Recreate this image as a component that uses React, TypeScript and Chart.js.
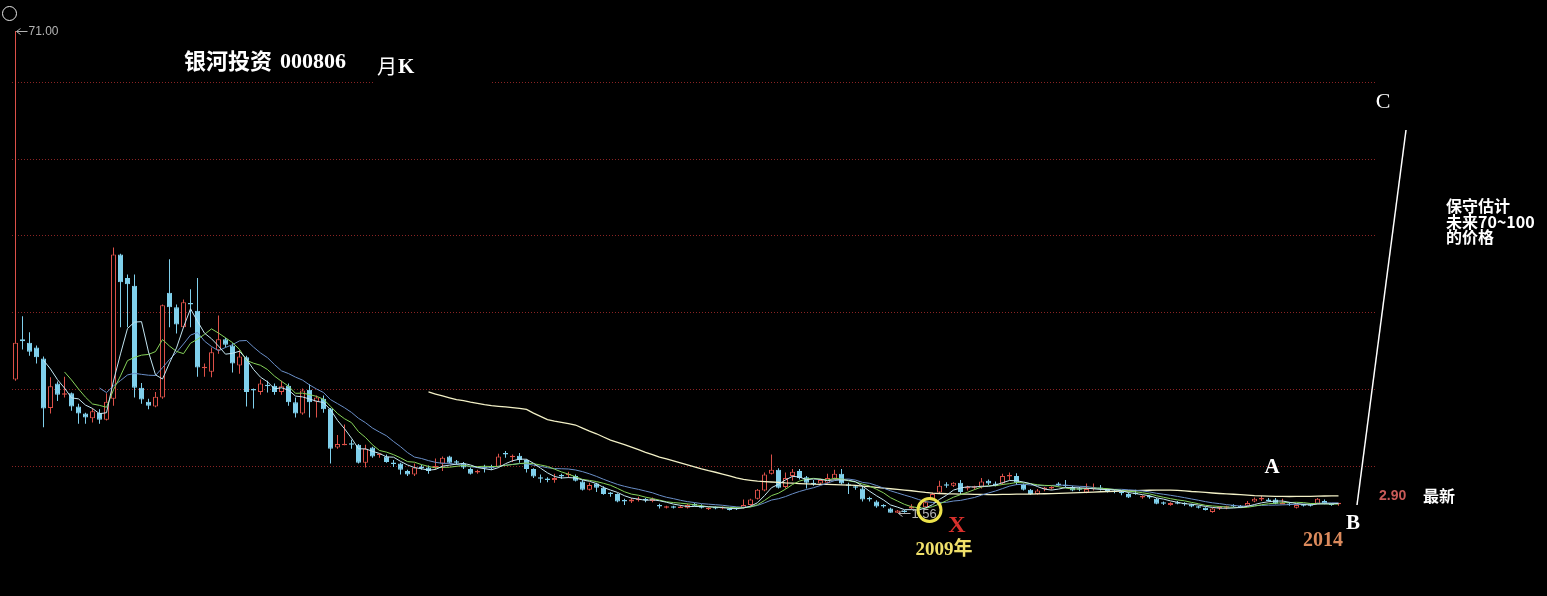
import React, { useEffect, useRef } from 'react';
import { Chart, registerables } from 'chart.js';

Chart.register(...registerables);

// ---- data (monthly K-line, 银河投资 000806) ----
const opens = [
  20.8, 26.6, 26.1, 25.4, 23.8, 16.7, 20.2, 18.6, 18.8, 16.9,
  15.9, 15.2, 16.0, 15.0, 18.0, 38.8, 35.4, 34.3, 19.6, 17.6,
  16.9, 18.2, 33.3, 31.2, 28.3, 31.8, 30.7, 22.4, 21.9, 25.0,
  26.6, 25.7, 22.8, 24.0, 19.4, 19.0, 20.0, 19.9, 19.0, 19.9,
  17.5, 15.9, 19.3, 17.6, 18.0, 16.6, 11.0, 11.3, 11.6, 11.4,
  8.8, 11.0, 9.9, 9.7, 8.8, 8.7, 7.6, 7.1, 8.2, 8.1,
  8.1, 8.7, 9.7, 8.9, 8.7, 7.9, 7.4, 8.1, 8.1, 8.2,
  10.1, 9.6, 9.8, 9.2, 7.9, 6.6, 6.4, 6.3, 6.9, 7.0,
  6.9, 6.1, 4.9, 5.8, 5.2, 4.4, 4.3, 3.3, 3.2, 3.6,
  3.5, 3.3, 2.6, 2.3, 2.4, 2.5, 2.3, 2.9, 2.6, 2.1,
  2.3, 2.2, 2.1, 2.2, 2.3, 2.7, 3.6, 4.8, 7.2, 7.8,
  5.3, 6.9, 7.6, 6.7, 5.8, 5.8, 5.9, 6.5, 7.2, 5.6,
  5.3, 5.1, 3.6, 3.2, 2.6, 2.2, 1.6, 1.8, 2.2, 2.3,
  2.4, 3.6, 4.5, 5.6, 5.5, 5.9, 5.1, 5.2, 5.3, 6.2,
  5.8, 5.8, 6.8, 6.9, 5.6, 4.9, 4.3, 5.0, 5.1, 5.8,
  5.5, 5.3, 5.0, 4.5, 5.0, 5.1, 4.8, 4.7, 4.6, 4.3,
  4.4, 3.8, 3.9, 3.6, 3.0, 2.7, 3.0, 2.9, 2.8, 2.5,
  2.3, 1.7, 2.2, 2.3, 2.6, 2.5, 2.6, 3.2, 3.5, 3.4,
  3.5, 3.0, 2.8, 2.3, 2.7, 2.8, 2.9, 3.3, 2.9, 2.8,
];
const highs = [
  71.0, 29.9, 27.6, 25.7, 24.1, 21.1, 20.5, 21.2, 18.9, 17.3,
  16.0, 16.6, 16.5, 18.8, 39.8, 38.9, 35.9, 35.9, 20.3, 18.0,
  19.0, 31.6, 38.1, 31.6, 32.3, 33.8, 35.4, 23.1, 25.4, 30.0,
  26.8, 26.0, 25.0, 24.2, 19.5, 20.8, 20.6, 20.2, 20.6, 20.2,
  18.2, 19.5, 20.1, 18.5, 18.5, 16.7, 12.8, 14.3, 12.1, 11.5,
  11.4, 11.1, 10.1, 10.0, 9.2, 8.8, 7.8, 8.7, 8.5, 8.4,
  9.4, 9.7, 9.8, 9.2, 8.9, 8.1, 7.8, 8.5, 8.5, 10.1,
  10.5, 10.0, 10.2, 9.3, 8.0, 7.1, 6.7, 7.2, 7.2, 7.5,
  7.1, 6.3, 5.9, 5.9, 5.4, 4.6, 4.4, 3.6, 3.7, 3.9,
  3.7, 3.8, 2.9, 2.6, 2.6, 2.7, 2.9, 3.0, 2.8, 2.4,
  2.5, 2.5, 2.3, 2.4, 3.5, 3.6, 5.0, 7.4, 10.0, 8.0,
  7.4, 7.9, 7.9, 6.9, 6.3, 6.5, 7.2, 7.8, 7.9, 5.9,
  5.5, 5.4, 3.9, 3.4, 2.8, 2.3, 2.0, 2.0, 2.8, 2.5,
  3.3, 4.5, 6.2, 6.0, 6.0, 6.3, 5.5, 5.5, 6.6, 6.4,
  6.1, 7.2, 7.4, 7.3, 5.8, 5.0, 5.0, 5.3, 5.4, 6.0,
  6.3, 5.5, 5.3, 5.8, 5.8, 5.6, 5.1, 4.9, 4.8, 4.5,
  4.9, 4.1, 4.1, 3.7, 3.2, 3.1, 3.3, 3.1, 2.9, 2.6,
  2.4, 2.3, 2.5, 2.6, 2.8, 2.7, 3.3, 3.8, 4.0, 3.7,
  3.7, 3.6, 3.1, 2.8, 2.9, 2.9, 3.7, 3.5, 3.0, 3.0,
];
const lows = [
  20.6, 25.1, 24.2, 23.1, 13.9, 15.9, 17.7, 18.2, 16.3, 14.4,
  14.4, 14.6, 14.4, 14.9, 17.0, 28.3, 28.3, 18.2, 17.3, 16.5,
  16.8, 18.0, 28.3, 27.4, 28.2, 28.3, 21.2, 21.2, 21.1, 24.5,
  25.4, 21.8, 21.6, 16.9, 16.6, 18.6, 18.9, 18.6, 18.6, 17.0,
  15.3, 15.7, 15.3, 15.3, 16.0, 8.7, 10.8, 11.3, 10.8, 8.7,
  8.1, 9.5, 9.5, 8.8, 8.2, 7.1, 6.9, 6.9, 7.8, 7.2,
  7.8, 7.6, 8.7, 8.5, 7.9, 7.1, 7.2, 7.4, 7.8, 8.1,
  9.5, 8.9, 8.8, 7.4, 6.6, 5.9, 6.0, 5.9, 6.5, 6.6,
  6.1, 4.8, 4.8, 4.6, 4.2, 3.9, 3.1, 2.7, 3.0, 3.2,
  3.1, 3.1, 2.2, 2.2, 2.2, 2.3, 2.2, 2.5, 2.2, 2.0,
  2.1, 2.1, 1.9, 2.0, 2.2, 2.6, 3.5, 4.7, 7.1, 5.1,
  5.1, 6.2, 6.4, 5.1, 5.5, 5.6, 5.8, 6.4, 5.7, 4.3,
  4.9, 3.2, 3.2, 2.3, 2.3, 1.6, 1.56, 1.6, 2.1, 2.0,
  2.3, 3.4, 4.3, 5.2, 5.3, 4.3, 4.8, 4.9, 5.1, 5.6,
  5.4, 5.6, 6.3, 5.6, 4.8, 4.2, 4.2, 4.7, 4.9, 5.4,
  5.3, 4.7, 4.7, 4.4, 4.8, 4.8, 4.5, 4.4, 4.1, 3.7,
  4.2, 3.6, 3.6, 2.8, 2.7, 2.6, 2.8, 2.6, 2.4, 2.2,
  1.9, 1.6, 2.0, 2.1, 2.4, 2.3, 2.5, 3.1, 3.3, 3.2,
  2.8, 2.8, 2.6, 2.2, 2.5, 2.5, 2.8, 2.8, 2.6, 2.6,
];
const closes = [
  26.1, 26.3, 24.8, 24.0, 16.6, 19.8, 18.6, 18.8, 16.9, 15.9,
  15.3, 16.2, 15.0, 17.6, 38.8, 34.8, 34.5, 19.6, 17.9, 17.0,
  18.3, 31.5, 31.2, 28.7, 31.9, 31.6, 22.5, 22.6, 24.7, 26.6,
  25.8, 23.1, 24.1, 19.0, 19.2, 20.2, 19.8, 19.0, 19.8, 17.5,
  15.9, 19.2, 17.5, 18.2, 16.5, 10.8, 11.5, 11.5, 11.4, 8.8,
  10.8, 9.7, 10.0, 8.9, 8.6, 7.8, 7.1, 8.1, 8.05, 7.6,
  8.3, 9.5, 8.8, 8.8, 8.1, 7.2, 7.6, 8.0, 8.0, 9.7,
  10.0, 9.7, 9.2, 7.9, 6.8, 6.5, 6.3, 6.6, 6.8, 7.1,
  6.2, 4.9, 5.6, 5.2, 4.3, 4.3, 3.2, 3.2, 3.5, 3.6,
  3.4, 3.6, 2.5, 2.4, 2.3, 2.5, 2.7, 2.6, 2.3, 2.2,
  2.2, 2.4, 2.0, 2.1, 2.7, 3.5, 4.9, 7.1, 7.8, 5.2,
  6.6, 7.5, 6.6, 5.9, 5.7, 6.3, 6.6, 7.2, 5.8, 5.5,
  5.2, 3.5, 3.5, 2.5, 2.5, 1.6, 1.9, 1.7, 2.5, 2.2,
  3.1, 4.3, 5.5, 5.5, 5.9, 4.6, 5.2, 5.3, 6.1, 5.8,
  5.5, 6.9, 6.9, 5.9, 4.9, 4.3, 4.8, 5.1, 5.2, 5.6,
  5.4, 4.8, 4.9, 5.0, 5.1, 5.0, 4.7, 4.6, 4.4, 3.8,
  4.3, 3.9, 3.8, 2.9, 2.9, 3.0, 2.9, 2.8, 2.5, 2.3,
  2.0, 2.2, 2.3, 2.4, 2.5, 2.4, 3.0, 3.6, 3.6, 3.3,
  2.9, 3.0, 2.7, 2.7, 2.6, 2.6, 3.6, 2.9, 2.7, 2.9,
];

const maPeriods = [5, 8, 13, 60];
const maColors = ['#c4e6f2', '#86d35a', '#6a8fc8', '#f2f0c6'];
const gridValues = [8.33, 19.43, 30.52, 41.61, 52.55, 63.65];

const titleName = '银河投资';
const titleCode = '000806';
const periodLabel = '月';
const noteLines = ['保守估计', '未来70~100', '的价格'];

const UP = '#dc5048';
const DOWN = '#80d0ec';

function movingAverage(values: number[], period: number) {
  const out: { x: number; y: number }[] = [];
  let sum = 0;
  for (let i = 0; i < values.length; i++) {
    sum += values[i];
    if (i >= period) sum -= values[i - period];
    if (i >= period - 1) out.push({ x: i, y: sum / period });
  }
  return out;
}

const gridPlugin = {
  id: 'dottedGrid',
  beforeDatasetsDraw(chart: any) {
    const { ctx, chartArea } = chart;
    const ys = chart.scales.y;
    ctx.save();
    ctx.strokeStyle = '#8a2424';
    ctx.lineWidth = 1;
    ctx.setLineDash([1, 2]);
    gridValues.forEach((v) => {
      const y = Math.round(ys.getPixelForValue(v)) + 0.5;
      ctx.beginPath();
      ctx.moveTo(chartArea.left, y);
      ctx.lineTo(chartArea.right, y);
      ctx.stroke();
    });
    ctx.restore();
  },
};

function arrowLabel(ctx: any, tipX: number, y: number, text: string, font: string, gap: number) {
  ctx.strokeStyle = '#b4b4b4';
  ctx.fillStyle = '#b4b4b4';
  ctx.lineWidth = 1;
  ctx.beginPath();
  ctx.moveTo(tipX + 1, y + 0.5);
  ctx.lineTo(tipX + gap, y + 0.5);
  ctx.moveTo(tipX + 1, y + 0.5);
  ctx.lineTo(tipX + 5, y - 2.5);
  ctx.moveTo(tipX + 1, y + 0.5);
  ctx.lineTo(tipX + 5, y + 3.5);
  ctx.stroke();
  ctx.font = font;
  ctx.textAlign = 'left';
  ctx.textBaseline = 'middle';
  ctx.fillText(text, tipX + gap + 1, y + 1);
}

const overlayPlugin = {
  id: 'overlay',
  afterDraw(chart: any) {
    const ctx = chart.ctx;
    const xs = chart.scales.x;
    const ys = chart.scales.y;
    ctx.save();

    // top-left circle
    ctx.strokeStyle = '#e8e8e8';
    ctx.lineWidth = 1;
    ctx.beginPath();
    ctx.arc(9.5, 13.5, 7, 0, Math.PI * 2);
    ctx.stroke();

    // max high label
    let hi = 0;
    highs.forEach((h, i) => { if (h > highs[hi]) hi = i; });
    arrowLabel(ctx, xs.getPixelForValue(hi), Math.round(ys.getPixelForValue(highs[hi])),
      highs[hi].toFixed(2), '12px "Liberation Sans", Arial, sans-serif', 12);

    // min low label
    let lo = 0;
    lows.forEach((l, i) => { if (l < lows[lo]) lo = i; });
    arrowLabel(ctx, xs.getPixelForValue(lo), Math.round(ys.getPixelForValue(lows[lo])),
      lows[lo].toFixed(2), '13px "Liberation Sans", Arial, sans-serif', 13);

    // title block
    ctx.fillStyle = '#000';
    ctx.fillRect(373, 46, 117, 42);
    ctx.fillStyle = '#ffffff';
    ctx.textAlign = 'left';
    ctx.textBaseline = 'middle';
    ctx.font = 'bold 22px "Noto Sans CJK SC", sans-serif';
    ctx.fillText(titleName, 184, 61);
    ctx.font = 'bold 22px "Liberation Serif", serif';
    ctx.fillText(titleCode, 280, 62);
    ctx.font = '20px "Noto Sans CJK SC", sans-serif';
    ctx.fillText(periodLabel, 377, 66);
    ctx.font = 'bold 21px "Liberation Serif", serif';
    ctx.fillText('K', 398, 68);

    // trend line B -> C
    ctx.strokeStyle = '#ffffff';
    ctx.lineWidth = 1.5;
    ctx.beginPath();
    ctx.moveTo(1357, 505);
    ctx.lineTo(1406, 130);
    ctx.stroke();

    ctx.textAlign = 'center';
    ctx.fillStyle = '#ffffff';
    ctx.font = '22px "Liberation Serif", serif';
    ctx.fillText('C', 1383, 102);
    ctx.font = 'bold 21px "Liberation Serif", serif';
    ctx.fillText('A', 1272, 468);
    ctx.fillText('B', 1353, 524);

    // note text
    ctx.textAlign = 'left';
    ctx.font = 'bold 16px "Noto Sans CJK SC", sans-serif';
    noteLines.forEach((t, k) => ctx.fillText(t, 1446, 206 + k * 15.5));

    // last price
    ctx.fillStyle = '#c85a58';
    ctx.font = 'bold 14px "Liberation Sans", Arial, sans-serif';
    ctx.fillText(closes[closes.length - 1].toFixed(2), 1379, 496);
    ctx.fillStyle = '#ffffff';
    ctx.font = 'bold 16px "Noto Sans CJK SC", sans-serif';
    ctx.fillText('最新', 1423, 496);

    // 2014
    ctx.textAlign = 'center';
    ctx.fillStyle = '#dc8a5c';
    ctx.font = 'bold 20px "Liberation Serif", serif';
    ctx.fillText('2014', 1323, 541);

    // 2009 marker
    ctx.strokeStyle = '#ece24a';
    ctx.lineWidth = 3;
    ctx.beginPath();
    ctx.arc(929.5, 510, 11.5, 0, Math.PI * 2);
    ctx.stroke();
    ctx.fillStyle = '#d8302c';
    ctx.font = 'bold 24px "Liberation Serif", serif';
    ctx.fillText('X', 957, 526);
    ctx.fillStyle = '#f0e06a';
    ctx.font = 'bold 19px "Liberation Serif", "Noto Sans CJK SC", serif';
    ctx.fillText('2009年', 944, 550);

    ctx.restore();
  },
};

export default function App() {
  const ref = useRef<HTMLCanvasElement>(null);

  useEffect(() => {
    if (!ref.current) return;
    const idx = closes.map((_, i) => i);
    const isUp = idx.map((i) => closes[i] >= opens[i]);
    const bodies = idx.map((i) => ({ x: i, y: [opens[i], closes[i]] }));
    const wicks = idx.map((i) => ({ x: i, y: [lows[i], highs[i]] }));

    const maSets = maPeriods.map((p, k) => ({
      type: 'line' as const,
      label: 'MA' + p,
      data: movingAverage(closes, p),
      borderColor: maColors[k],
      borderWidth: p === 60 ? 1.3 : 1,
      pointRadius: 0,
      tension: 0,
      order: 0,
    }));

    const chart = new Chart(ref.current, {
      type: 'bar',
      data: {
        datasets: [
          ...maSets,
          {
            type: 'bar',
            label: 'body',
            data: bodies as any,
            backgroundColor: isUp.map((u) => (u ? '#000000' : DOWN)),
            borderColor: isUp.map((u) => (u ? UP : DOWN)),
            borderWidth: 1,
            borderSkipped: false,
            barThickness: 5,
            grouped: false,
            minBarLength: 1.5,
            inflateAmount: 0,
            order: 1,
          },
          {
            type: 'bar',
            label: 'wick',
            data: wicks as any,
            backgroundColor: isUp.map((u) => (u ? UP : DOWN)),
            borderWidth: 0,
            barThickness: 1,
            grouped: false,
            inflateAmount: 0,
            order: 2,
          },
        ] as any,
      },
      options: {
        responsive: false,
        animation: false,
        layout: { padding: { left: 12, right: 170, top: 0, bottom: 0 } },
        scales: {
          x: { type: 'linear', min: -0.5, max: 194.5, offset: false, display: false },
          y: { type: 'linear', min: -10.4, max: 75.46, offset: false, display: false },
        },
        plugins: {
          legend: { display: false },
          tooltip: { enabled: false },
        },
      },
      plugins: [gridPlugin, overlayPlugin],
    });
    return () => chart.destroy();
  }, []);

  return (
    <div style={{ position: 'fixed', left: 0, top: 0, width: 1547, height: 596, background: '#000' }}>
      <canvas ref={ref} width={1547} height={596} style={{ display: 'block' }} />
    </div>
  );
}
